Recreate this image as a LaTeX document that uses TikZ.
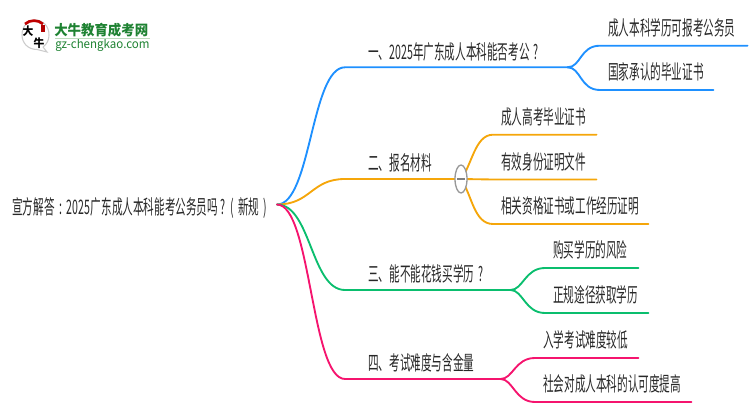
\documentclass[tikz,border=0pt]{standalone}
\usepackage{fontspec}
\usetikzlibrary{positioning, shapes.geometric}
\setmainfont{Noto Sans CJK SC}[FakeStretch=0.53]
\newfontfamily\logofont{Noto Sans CJK SC}[FakeStretch=0.95]
\definecolor{bluebr}{RGB}{30,144,255}
\definecolor{orangebr}{RGB}{245,166,10}
\definecolor{greenbr}{RGB}{10,190,110}
\definecolor{pinkbr}{RGB}{245,20,110}
\definecolor{inktext}{RGB}{40,40,40}
\definecolor{logogreen}{RGB}{30,130,50}
\tikzset{
  words/.style={inner xsep=0pt, text=inktext, text height=13pt, text depth=2pt, font=\fontsize{15pt}{17pt}\selectfont},
  topic/.style={words, anchor=south west, inner ysep=4pt, align=left, text width=#1, execute at begin node=\hspace*{17.25pt}},
  leaf/.style={words, anchor=south west, inner ysep=5.5pt, align=left, text width=#1, execute at begin node=\hspace*{6pt}},
  branch/.style={line width=1.4pt, line cap=round, draw=#1},
}
\begin{document}
\begin{tikzpicture}[x=0.75pt,y=0.75pt,yscale=-1]
\useasboundingbox (0,0) rectangle (750,410);

% Text Node
\node (root) [words, anchor=west, inner ysep=0pt] at (12,207) {宣方解答\hspace{3.4pt}:\hspace{3.4pt}2025\hspace{0.5pt}广东成人本科能考公务员吗\hspace{2pt}?\hspace{3.5pt}(\hspace{3pt}新规\hspace{3pt})};
\coordinate (hub) at (277,204.5);
\coordinate (foldpt) at (461,179);

% Text Node
\node (topica) [topic=166.5pt] at (345,67.3) {一、2025年广东成人本科能否考公\hspace{3pt}?};
\node (topicb) [topic=87pt] at (345,179) {二、报名材料};
\node (topicc) [topic=123.75pt] at (345,290) {三、能不能花钱买学历\hspace{3pt}?};
\node (topicd) [topic=116.25pt] at (345,379) {四、考试难度与含金量};

\node (leafaa) [leaf=110.25pt] at (600,45.7) {成人本科学历可报考公务员};
\node (leafab) [leaf=84.75pt] at (600,90) {国家承认的毕业证书};
\node (leafba) [leaf=77.25pt] at (493,134.7) {成人高考毕业证书};
\node (leafbb) [leaf=77.25pt] at (493,179.5) {有效身份证明文件};
\node (leafbc) [leaf=116.25pt] at (493,224) {相关资格证书或工作经历证明};
\node (leafca) [leaf=69.75pt] at (545,268) {购买学历的风险};
\node (leafcb) [leaf=77.25pt] at (545,313) {正规途径获取学历};
\node (leafda) [leaf=77.25pt] at (535,358) {入学考试难度较低};
\node (leafdb) [leaf=117pt] at (535,402) {社会对成人本科的认可度提高};

%Branch lines
\draw [branch=bluebr] (hub) .. controls (311,204.5) and (311,67.3) .. (topica.south west) -- (topica.south east);
\draw [branch=orangebr] (hub) .. controls (311,204.5) and (311,179) .. (topicb.south west) -- (topicb.south east);
\draw [branch=greenbr] (hub) .. controls (311,204.5) and (311,290) .. (topicc.south west) -- (topicc.south east);
\draw [branch=pinkbr] (hub) .. controls (311,204.5) and (311,379) .. (topicd.south west) -- (topicd.south east);

%Leaf lines
\draw [branch=bluebr] (topica.south east) .. controls (581,67.3) and (580,45.7) .. (leafaa.south west) -- (leafaa.south east);
\draw [branch=bluebr] (topica.south east) .. controls (581,67.3) and (580,90) .. (leafab.south west) -- (leafab.south east);
\draw [branch=greenbr] (topicc.south east) .. controls (523,290) and (525,268) .. (leafca.south west) -- (leafca.south east);
\draw [branch=greenbr] (topicc.south east) .. controls (523,290) and (525,313) .. (leafcb.south west) -- (leafcb.south east);
\draw [branch=pinkbr] (topicd.south east) .. controls (513,379) and (515,358) .. (leafda.south west) -- (leafda.south east);
\draw [branch=pinkbr] (topicd.south east) .. controls (513,379) and (515,402) .. (leafdb.south west) -- (leafdb.south east);
\draw [branch=orangebr] (foldpt) .. controls (472,165) and (475,134.7) .. (leafba.south west) -- (leafba.south east);
\draw [branch=orangebr] (foldpt) -- (leafbb.south west) -- (leafbb.south east);
\draw [branch=orangebr] (foldpt) .. controls (472,195) and (474,224) .. (leafbc.south west) -- (leafbc.south east);

%Fold mark
\node (fold) [ellipse, draw=gray!80, line width=1pt, fill=white, minimum width=9pt, minimum height=21pt, inner sep=0pt] at (foldpt) {};
\draw [gray, line width=1pt] ([xshift=-3pt]fold.center) -- ([xshift=3pt]fold.center);

%Logo
\draw [gray!40, line width=0.8pt, fill=white] (43,47) -- (47,52) -- (37,49.5) .. controls (28,49.5) and (22,43) .. (22,35) .. controls (22,26) and (28,20) .. (35,20) .. controls (43,20) and (49,26) .. (49,35) .. controls (49,40) and (47,44) .. (43,47);
\draw [red!75!black, line width=2pt] (25,24) .. controls (30,19.5) and (38,19.5) .. (43,24);
\fill [red!70!black] (40.5,25) rectangle (45,32);
\node (logochara) [inner sep=0pt, font=\logofont\fontsize{8.5pt}{9pt}\selectfont\bfseries] at (28,31.5) {大};
\node (logocharb) [inner sep=0pt, font=\logofont\fontsize{8.5pt}{9pt}\selectfont\bfseries] at (39,43) {牛};
\node (logoname) [anchor=west, inner sep=0pt, text=logogreen, font=\logofont\fontsize{10.6pt}{11pt}\selectfont\bfseries] at (54,30) {大牛教育成考网};
\node (logourl) [anchor=west, inner sep=0pt, text=logogreen, font=\logofont\fontsize{9.1pt}{10pt}\selectfont] at (55,45) {gz-chengkao.com};
\draw [green!30!gray!40, line width=0.6pt] (55,38) -- (150,38);
\end{tikzpicture}
\end{document}
